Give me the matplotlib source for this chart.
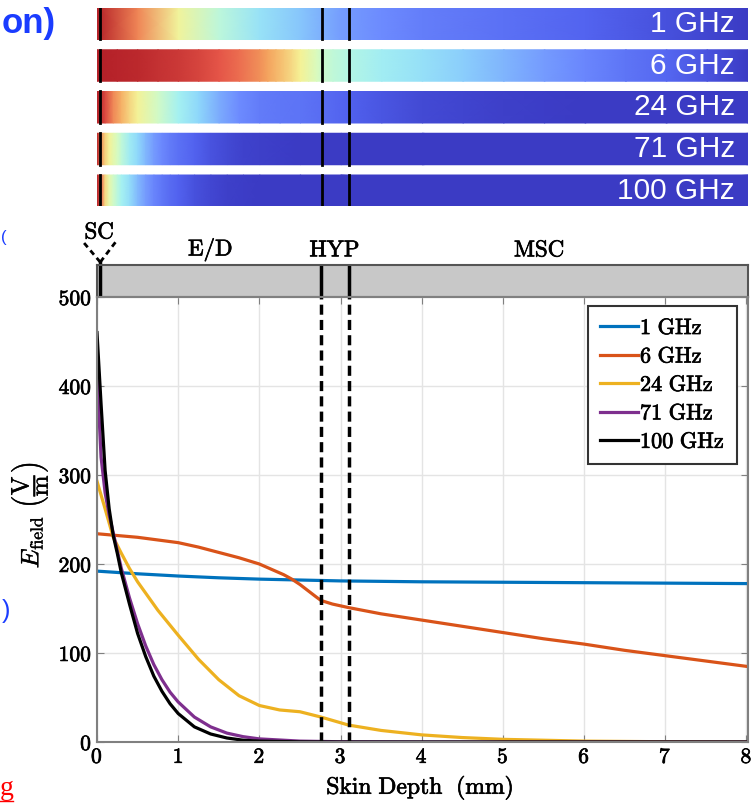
import numpy as np
import matplotlib.pyplot as plt
import matplotlib.patheffects as pe
from matplotlib.colors import LinearSegmentedColormap
from matplotlib.ticker import FuncFormatter
from matplotlib.lines import Line2D

plt.rcParams['mathtext.fontset'] = 'cm'

# E-field vs skin depth for each frequency
freqs = ['1 GHz', '6 GHz', '24 GHz', '71 GHz', '100 GHz']
colors = ['#0072BD', '#D95319', '#EDB120', '#7E2F8E', '#000000']

depth_1 = [0, 0.5, 1, 1.5, 2, 2.5, 3, 3.5, 4, 5, 6, 7, 8]
efield_1 = [192, 189, 186.5, 184.5, 183, 182, 181, 180.5, 180, 179.5, 179, 178.5, 178]

depth_6 = [0, 0.25, 0.5, 0.75, 1, 1.25, 1.5, 1.75, 2, 2.1, 2.2, 2.3, 2.4, 2.5,
           2.6, 2.7, 2.76, 2.9, 3.1, 3.5, 4, 4.5, 5, 5.5, 6, 6.5, 7, 7.5, 8]
efield_6 = [234, 232, 230, 227, 224, 219, 213, 207, 200, 196, 192, 188, 183, 177,
            170, 163, 159, 155, 151, 144, 137, 130, 123, 116, 110, 103, 97, 91, 85]

depth_24 = [0, 0.1, 0.2, 0.3, 0.4, 0.5, 0.75, 1, 1.25, 1.5, 1.75, 2, 2.25,
            2.5, 2.76, 3.1, 3.5, 4, 4.5, 5, 5.5, 6, 7, 8]
efield_24 = [293, 262, 230, 212, 195, 180, 148, 120, 93, 70, 52, 41, 36,
             34, 28, 19, 13, 8, 5, 3, 2, 1, 0.3, 0]

depth_71 = [0, 0.05, 0.1, 0.15, 0.2, 0.25, 0.3, 0.4, 0.5, 0.6, 0.7, 0.8, 0.9,
            1.0, 1.2, 1.4, 1.6, 1.8, 2.0, 2.5, 3, 4, 8]
efield_71 = [415, 320, 280, 255, 235, 215, 195, 162, 133, 108, 87, 70, 56,
             45, 28, 17, 10, 6, 3.5, 1, 0.3, 0, 0]

depth_100 = [0, 0.05, 0.1, 0.15, 0.2, 0.25, 0.3, 0.4, 0.5, 0.6, 0.7, 0.8, 0.9,
             1.0, 1.2, 1.4, 1.6, 1.8, 2.0, 2.5, 3, 8]
efield_100 = [460, 380, 305, 262, 232, 212, 190, 155, 122, 96, 74, 57, 43,
              32, 17, 9, 4.5, 2, 1, 0.2, 0, 0]

depths = [depth_1, depth_6, depth_24, depth_71, depth_100]
efields = [efield_1, efield_6, efield_24, efield_71, efield_100]

# tissue layer boundaries (mm)
sc_edge = 0.04
layer_bounds = [2.76, 3.1]
layer_names = ['E/D', 'HYP', 'MSC']
layer_label_x = [1.4, 2.93, 5.45]

heat_cmap = LinearSegmentedColormap.from_list('field', [
    (0.0, '#3b3bc4'), (0.06, '#5060ee'), (0.18, '#6e8cff'), (0.32, '#8fd8fb'),
    (0.42, '#a8f4f0'), (0.52, '#d8fbc0'), (0.62, '#f5f296'), (0.74, '#f5a860'),
    (0.85, '#e8584a'), (1.0, '#b42028')])

thick = [pe.withStroke(linewidth=0.5, foreground='black')]

W, H = 751, 805
fig = plt.figure(figsize=(W / 100, H / 100), dpi=100)
left, width = 97 / W, 651 / W
ax_heat = fig.add_axes([left, 1 - 206 / H, width, 198 / H])
ax_band = fig.add_axes([left, 1 - 297 / H, width, 32 / H])
ax = fig.add_axes([left, 1 - 742 / H, width, 445 / H])

# colour strips, one per frequency
pitch, bar_h = 41.75 / 198, 31.5 / 198
for i, (d, e, name) in enumerate(zip(depths, efields, freqs)):
    d = np.array(d)
    e = np.array(e, dtype=float)
    norm = (e - e.min()) / (e.max() - e.min())
    top = 1 - i * pitch
    bot = top - bar_h
    ax_heat.pcolormesh(np.vstack([d, d]),
                       np.vstack([np.full(d.size, bot), np.full(d.size, top)]),
                       np.vstack([norm, norm]), shading='gouraud',
                       cmap=heat_cmap, vmin=0, vmax=1)
    for b in [sc_edge] + layer_bounds:
        ax_heat.plot([b, b], [bot, top], color='k', lw=2)
    ax_heat.text(7.84, (top + bot) / 2, name, color='white', ha='right',
                 va='center', fontsize=21.5, family='Liberation Sans')
ax_heat.set_xlim(0, 8)
ax_heat.set_ylim(0, 1)
ax_heat.axis('off')

# layer band
ax_band.set_facecolor('#c8c8c8')
ax_band.set_xlim(0, 8.02)
ax_band.set_ylim(0, 1)
ax_band.set_xticks([])
ax_band.set_yticks([])
for s in ax_band.spines.values():
    s.set_color('#555555')
    s.set_linewidth(1.5)
for b in layer_bounds:
    ax_band.plot([b, b], [0, 1], color='k', lw=2.5)
ax_band.plot([sc_edge, sc_edge], [0, 1.09], color='k', lw=2.5, clip_on=False)
for xe in [-0.17, 0.23]:
    ax_band.plot([sc_edge, xe], [1.09, 1.72], color='k', lw=2,
                 ls=(0, (2, 1.5)), clip_on=False)
ax_band.text(0.03, 2.03, r'$\mathrm{SC}$', ha='center', va='center',
             fontsize=16.5, path_effects=thick)
for name, xl in zip(layer_names, layer_label_x):
    ax_band.text(xl, 1.47, r'$\mathrm{%s}$' % name, ha='center', va='center',
                 fontsize=16.5, path_effects=thick)

# field curves
for d, e, c, name in zip(depths, efields, colors, freqs):
    ax.plot(d, e, color=c, lw=2.3, label=r'$\mathrm{%s}$' % name.replace(' ', r'\ '))
for b in layer_bounds:
    ax.axvline(b, color='k', lw=2.5, ls=(0, (2.9, 1.5)))

ax.set_xlim(0, 8.02)
ax.set_ylim(0, 500)
ax.set_xticks(range(9))
ax.set_yticks(range(0, 501, 100))
fmt = FuncFormatter(lambda v, p: r'$%d$' % v)
ax.xaxis.set_major_formatter(fmt)
ax.yaxis.set_major_formatter(fmt)
ax.tick_params(labelsize=15.5, direction='in', top=True, right=True,
               length=5, color='#808080')
for lbl in ax.get_xticklabels() + ax.get_yticklabels():
    lbl.set_path_effects(thick)
ax.grid(True, color='#e4e4e4', lw=1)
for s in ax.spines.values():
    s.set_color('#808080')
    s.set_linewidth(1.5)
ax.set_xlabel(r'$\mathrm{Skin\ Depth\ \ (mm)}$', fontsize=17, path_effects=thick)
ax.set_ylabel(r'$E_{\mathrm{field}}\ \left(\dfrac{\mathrm{V}}{\mathrm{m}}\right)$',
              fontsize=18, path_effects=[pe.withStroke(linewidth=0.3, foreground='black')])
ax.yaxis.set_label_coords(-0.072, 0.51)
ax.xaxis.set_label_coords(0.496, -0.07)

leg = ax.legend(loc='upper right', bbox_to_anchor=(0.983, 0.98),
                borderaxespad=0, fontsize=16, handlelength=1.7,
                handletextpad=0.1, fancybox=False, framealpha=1,
                labelspacing=0.38, borderpad=0.55)
leg.get_frame().set_edgecolor('#333333')
leg.get_frame().set_linewidth(1.5)
for t in leg.get_texts():
    t.set_path_effects(thick)

# slide text running off the left edge
fig.text(56 / W, 1 - 24 / H, 'on)', color='#1a3cff', fontsize=25,
         fontweight='bold', ha='right', va='center', family='Liberation Sans')
fig.text(10 / W, 1 - 611 / H, ')', color='#1a3cff', fontsize=18,
         ha='right', va='center', family='Liberation Sans')
fig.text(1 / W, 1 - 237 / H, '(', color='#1a3cff', fontsize=12,
         ha='left', va='center', family='Liberation Sans')
fig.text(0, 1 - 788 / H, 'g', color='red', fontsize=20, ha='left',
         va='center', family='Liberation Serif')
fig.add_artist(Line2D([0, 13 / W], [1 - 801 / H, 1 - 801 / H], color='red', lw=1))

fig.savefig('out.png', dpi=100)
